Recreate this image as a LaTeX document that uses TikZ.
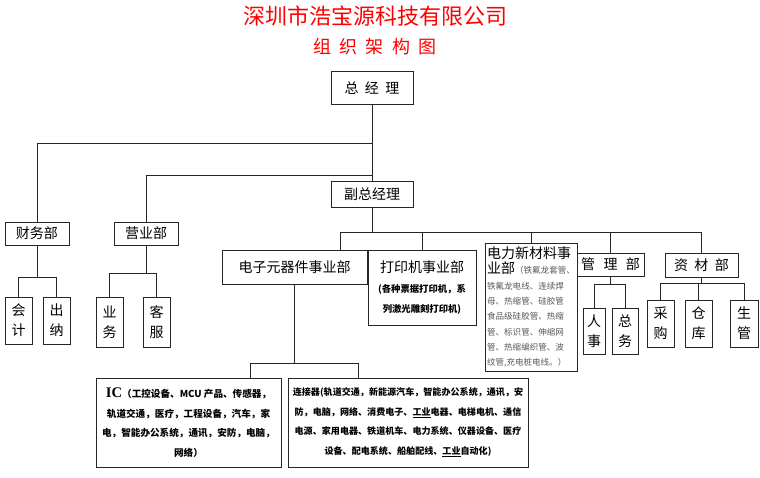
\documentclass[tikz,border=0pt]{standalone}
\usepackage{fontspec}
\setmainfont{Noto Sans CJK SC}
\newfontfamily\latinserif{Liberation Serif}
\usepackage{tikz}
\usetikzlibrary{calc, positioning}
\usepackage{xcolor}
\definecolor{TitleRed}{rgb}{1.00, 0.00, 0.00}
\definecolor{RuleBlack}{gray}{0.15}
\definecolor{NoteGray}{gray}{0.35}
\newcommand{\chgap}[1][0.45em]{\hspace{#1}}
\newcommand{\notefont}{\fontsize{6.4}{11.5}\selectfont\color{NoteGray}}
\newcommand{\printfont}{\bfseries\fontsize{7}{14}\selectfont}
\tikzset{%
  org_title/.style={%
    color=TitleRed,%
    font={\fontsize{16.5}{20}\selectfont},%
  },
  org_subtitle/.style={%
    color=TitleRed,%
    font={\fontsize{13.5}{16}\selectfont},%
  },
  org_block/.style={%
    rectangle,%
    draw=RuleBlack,%
    line width=0.75pt,%
    inner sep=1pt,%
    font={\fontsize{10.5}{15}\selectfont},%
    align=center,%
  },
  org_post/.style={%
    org_block,%
    minimum width=20.25pt,%
    minimum height=35.25pt,%
  },
  org_note/.style={%
    org_block,%
    minimum height=66.75pt,%
    font={\bfseries\fontsize{6.8}{14.6}\selectfont},%
  },
  org_path/.style={%
    color=RuleBlack,%
    line width=0.7pt,%
  },
}

\begin{document}
\begin{tikzpicture}[x=0.75pt, y=0.75pt]
  \useasboundingbox (0,0) rectangle (760,-478);

  \node [org_title] (Title) at (375,-16) {深圳市浩宝源科技有限公司};
  \node [org_subtitle] (Subtitle) at (375,-47)
    {组\chgap 织\chgap 架\chgap 构\chgap 图};

  \node [org_block, minimum width=61.5pt, minimum height=24pt] (GM) at (372,-88)
    {总\chgap 经\chgap 理};
  \node [org_block, minimum width=61.5pt, minimum height=19.5pt, below = 76 of GM] (DGM)
    {副总经理};

  \node [org_block, minimum width=48pt, minimum height=17.25pt] (Fin) at (37,-233.5) {财务部};
  \node [org_block, minimum width=48pt, minimum height=17.25pt, right = 44 of Fin] (Sales) {营业部};

  \node [org_post] (Acct) at (18.5,-320.5) {会\\计};
  \node [org_post, right = 10 of Acct] (Cash) {出\\纳};
  \node [org_post, minimum height=37.5pt] (Biz) at (109.5,-322) {业\\务};
  \node [org_post, minimum height=37.5pt, right = 19 of Biz] (Svc) {客\\服};

  \node [org_block, minimum width=108.75pt, minimum height=25.5pt] (Elec) at (294.5,-267)
    {电子元器件事业部};
  \node [org_block, minimum width=81pt, minimum height=56.25pt,
    right = 0 of Elec.north east, anchor=north west] (Print)
    {打印机事业部\\{\printfont (各种票据打印机，系}\\{\printfont 列激光雕刻打印机)}};
  \node [org_block, minimum width=69pt, minimum height=96pt, align=left,
    font={\fontsize{10.5}{11.5}\selectfont}] (Power) at (531,-307)
    {电力新材料事\\业部{\notefont （铁氟龙套管、}\\{\notefont 铁氟龙电线、连续焊}\\%
     {\notefont 母、热缩管、硅胶管}\\{\notefont 食品级硅胶管、热缩}\\%
     {\notefont 管、标识管、伸缩网}\\{\notefont 管、热缩编织管、波}\\%
     {\notefont 纹管,充电桩电线。）}};
  \node [org_block, minimum width=50.25pt, minimum height=17.25pt] (Admin) at (610.5,-264.5)
    {管\chgap[0.6em]理\chgap[0.6em]部};
  \node [org_block, minimum width=54.75pt, minimum height=18pt] (Mat) at (701.5,-265)
    {资\chgap 材\chgap 部};

  \node [org_post, minimum width=16.5pt, minimum height=34.5pt] (HR) at (594,-331) {人\\事};
  \node [org_post, minimum width=19.5pt, minimum height=34.5pt, right = 6 of HR] (Gen) {总\\务};
  \node [org_post] (Buy) at (660.5,-323.5) {采\\购};
  \node [org_post, right = 10 of Buy] (Store) {仓\\库};
  \node [org_post, minimum width=21pt, right = 17 of Store] (Prod) {生\\管};

  \node [org_note, minimum width=138.75pt, font={\bfseries\fontsize{7.2}{14.6}\selectfont}]
    (IC) at (188.5,-422.5)
    {{\latinserif\fontsize{11}{14.6}\selectfont IC}（工控设备、MCU 产品、传感器，\\%
     轨道交通，医疗，工程设备，汽车，家\\电，智能办公系统，通讯，安防，电脑，\\网络）};
  \node [org_note, minimum width=180pt, right = 6 of IC] (Conn)
    {连接器(轨道交通，新能源汽车，智能办公系统，通讯，安\\%
     防，电脑，网络、消费电子、\underline{工业}电器、电梯电机、通信\\%
     电源、家用电器、铁道机车、电力系统、仪器设备、医疗\\%
     设备、配电系统、船舶配线、\underline{工业}自动化)};

  \draw [org_path]
    (GM.south) -- ++(0,-39) -| (Fin.north);
  \draw [org_path]
    (GM.south) -- ++(0,-71) -| (Sales.north);
  \draw [org_path]
    (GM.south) -- (DGM.north);

  \draw [org_path]
    (DGM.south) -- ++(0,-25) coordinate (DGMBus);
  \draw [org_path]
    ($(Elec.north)+(46,0)$) |- (DGMBus) -| (Mat.north);
  \foreach \dept in {Print, Power, Admin}
    \draw [org_path] (\dept.north) -- (\dept.north |- DGMBus);

  \draw [org_path]
    (Fin.south) -- ++(0,-32) coordinate (FinBus);
  \draw [org_path]
    (Acct.north) |- (FinBus) -| (Cash.north);
  \draw [org_path]
    (Sales.south) -- ++(0,-28) coordinate (SalesBus);
  \draw [org_path]
    (Biz.north) |- (SalesBus) -| (Svc.north);
  \draw [org_path]
    (Admin.south) -- ++(0,-8) coordinate (AdminBus);
  \draw [org_path]
    (HR.north) |- (AdminBus) -| (Gen.north);
  \draw [org_path]
    (Mat.south) -- ++(0,-6) coordinate (MatBus);
  \draw [org_path]
    (Buy.north) |- (MatBus) -| (Prod.north);
  \draw [org_path]
    (Store.north) -- (Store.north |- MatBus);

  \draw [org_path]
    (Elec.south) -- ++(0,-79) coordinate (ElecBus);
  \draw [org_path]
    ($(IC.north)+(61.5,0)$) |- (ElecBus) -| ($(Conn.north)+(-50,0)$);

\end{tikzpicture}
\end{document}
